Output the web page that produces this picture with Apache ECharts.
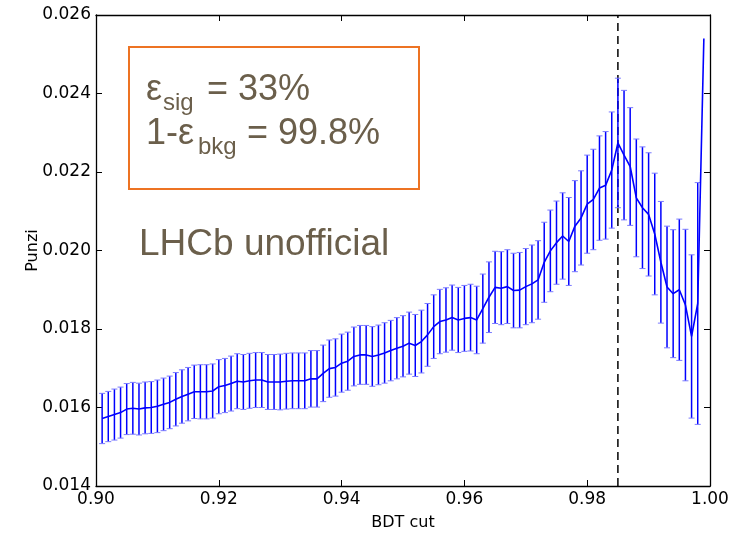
<!DOCTYPE html>
<html>
<head>
<meta charset="utf-8">
<script src="https://cdn.jsdelivr.net/npm/echarts@6/dist/echarts.min.js"></script>
<style>html,body{margin:0;padding:0;background:#fff;}#c{width:738px;height:536px;}</style>
</head>
<body>
<div id="c"></div>
<script>
// BDT cut values (x)
const bdtCut = [
0.901,0.902,0.903,0.904,0.905,0.906,0.907,0.908,0.909,0.910,
0.911,0.912,0.913,0.914,0.915,0.916,0.917,0.918,0.919,0.920,
0.921,0.922,0.923,0.924,0.925,0.926,0.927,0.928,0.929,0.930,
0.931,0.932,0.933,0.934,0.935,0.936,0.937,0.938,0.939,0.940,
0.941,0.942,0.943,0.944,0.945,0.946,0.947,0.948,0.949,0.950,
0.951,0.952,0.953,0.954,0.955,0.956,0.957,0.958,0.959,0.960,
0.961,0.962,0.963,0.964,0.965,0.966,0.967,0.968,0.969,0.970,
0.971,0.972,0.973,0.974,0.975,0.976,0.977,0.978,0.979,0.980,
0.981,0.982,0.983,0.984,0.985,0.986,0.987,0.988,0.989,0.990,
0.991,0.992,0.993,0.994,0.995,0.996,0.997,0.998,0.999];
// Punzi figure of merit
const punzi = [
0.01572,0.01577,0.01582,0.01587,0.01596,0.01598,0.01596,0.01599,0.01600,0.01603,
0.01608,0.01613,0.01621,0.01628,0.01634,0.01640,0.01640,0.01640,0.01642,0.01653,
0.01656,0.01661,0.01667,0.01665,0.01668,0.01670,0.01670,0.01665,0.01665,0.01665,
0.01667,0.01668,0.01668,0.01668,0.01673,0.01673,0.01687,0.01699,0.01702,0.01713,
0.01718,0.01730,0.01734,0.01734,0.01730,0.01734,0.01739,0.01745,0.01751,0.01756,
0.01764,0.01758,0.01768,0.01785,0.01806,0.01819,0.01823,0.01829,0.01823,0.01827,
0.01829,0.01823,0.01852,0.01881,0.01906,0.01904,0.01908,0.01898,0.01899,0.01908,
0.01915,0.01925,0.01970,0.01999,0.02020,0.02037,0.02023,0.02062,0.02083,0.02118,
0.02130,0.02159,0.02166,0.02205,0.02274,0.02243,0.02214,0.02134,0.02109,0.02092,
0.02042,0.01970,0.01907,0.01890,0.01900,0.01861,0.01781,0.01865,0.02540];
// symmetric error (half-width)
const punziErr = [
0.00064,0.00064,0.00065,0.00065,0.00065,0.00066,0.00066,0.00066,0.00066,0.00067,
0.00067,0.00067,0.00068,0.00068,0.00068,0.00068,0.00069,0.00069,0.00069,0.00069,
0.00069,0.00070,0.00070,0.00070,0.00070,0.00070,0.00070,0.00070,0.00070,0.00071,
0.00071,0.00071,0.00071,0.00071,0.00072,0.00072,0.00072,0.00073,0.00073,0.00074,
0.00074,0.00075,0.00075,0.00075,0.00076,0.00076,0.00077,0.00077,0.00078,0.00078,
0.00079,0.00079,0.00080,0.00080,0.00081,0.00082,0.00082,0.00083,0.00083,0.00084,
0.00085,0.00086,0.00088,0.00090,0.00092,0.00093,0.00094,0.00095,0.00096,0.00097,
0.00099,0.00100,0.00102,0.00104,0.00106,0.00110,0.00112,0.00116,0.00120,0.00125,
0.00128,0.00133,0.00137,0.00148,0.00165,0.00165,0.00150,0.00150,0.00155,0.00157,
0.00155,0.00155,0.00155,0.00163,0.00180,0.00193,0.00208,0.00308,null];
const xTicks = [0.90,0.92,0.94,0.96,0.98,1.00];
const yTicks = [0.014,0.016,0.018,0.020,0.022,0.024,0.026];
const chosenCut = 0.985;

const lineData = bdtCut.map((x,i)=>[x,punzi[i]]);
const errData = [];
bdtCut.forEach((x,i)=>{ if(punziErr[i]!=null) errData.push([x,punzi[i],punziErr[i]]); });
const cutLineData = [[chosenCut, yTicks[0]], [chosenCut, yTicks[yTicks.length-1]]];

const axisFont = 'DejaVu Sans';
const annColor = '#6b5f4b';
const annFont = 'Liberation Sans';

const chart = echarts.init(document.getElementById('c'), null, {renderer:'canvas'});
const baseX = {min:xTicks[0], max:xTicks[xTicks.length-1], interval:0.02, type:'value'};
const baseY = {min:yTicks[0], max:yTicks[yTicks.length-1], interval:0.002, type:'value'};
chart.setOption({
  animation:false,
  grid:{left:96,right:28,top:15,bottom:45,show:false},
  xAxis:[
    Object.assign({},baseX,{position:'bottom',name:'BDT cut',nameLocation:'middle',nameGap:29,
      nameTextStyle:{fontFamily:axisFont,fontSize:16,color:'#000'},
      axisLine:{show:true,onZero:false,lineStyle:{color:'#000',width:1.3}},
      axisTick:{show:true,inside:true,length:6,lineStyle:{color:'#000',width:1}},
      axisLabel:{fontFamily:axisFont,fontSize:17,color:'#000',margin:5,formatter:v=>v.toFixed(2)},
      splitLine:{show:false}}),
    Object.assign({},baseX,{position:'top',
      axisLine:{show:true,onZero:false,lineStyle:{color:'#000',width:1.3}},
      axisTick:{show:true,inside:true,length:6,lineStyle:{color:'#000',width:1}},
      axisLabel:{show:false},splitLine:{show:false}})
  ],
  yAxis:[
    Object.assign({},baseY,{position:'left',name:'Punzi',nameLocation:'middle',nameGap:55,nameMoveOverlap:false,
      nameTextStyle:{fontFamily:axisFont,fontSize:16,color:'#000'},
      axisLine:{show:true,onZero:false,lineStyle:{color:'#000',width:1.3}},
      axisTick:{show:true,inside:true,length:6,lineStyle:{color:'#000',width:1}},
      axisLabel:{fontFamily:axisFont,fontSize:17,color:'#000',margin:5,formatter:v=>v.toFixed(3)},
      splitLine:{show:false}}),
    Object.assign({},baseY,{position:'right',
      axisLine:{show:true,onZero:false,lineStyle:{color:'#000',width:1.3}},
      axisTick:{show:true,inside:true,length:6,lineStyle:{color:'#000',width:1}},
      axisLabel:{show:false},splitLine:{show:false}})
  ],
  series:[
    {
      type:'line', xAxisIndex:0, yAxisIndex:0, data:cutLineData, showSymbol:false, symbol:'none', z:1,
      lineStyle:{color:'#000',type:[8,5],width:1.5}, silent:true
    },
    {
      type:'custom', xAxisIndex:0, yAxisIndex:0, clip:true, z:2,
      data:errData,
      renderItem:function(params,api){
        const x=api.value(0), y=api.value(1), e=api.value(2);
        const t=api.coord([x,y+e]), b=api.coord([x,y-e]);
        const hw=3;
        return {type:'group',children:[
          {type:'line',shape:{x1:t[0],y1:t[1],x2:b[0],y2:b[1]},style:{stroke:'#0000ff',lineWidth:1.5}},
          {type:'line',shape:{x1:t[0]-hw,y1:t[1],x2:t[0]+hw,y2:t[1]},style:{stroke:'#7a7aff',lineWidth:1}},
          {type:'line',shape:{x1:b[0]-hw,y1:b[1],x2:b[0]+hw,y2:b[1]},style:{stroke:'#7a7aff',lineWidth:1}}
        ]};
      }
    },
    {
      type:'line', xAxisIndex:0, yAxisIndex:0, data:lineData, showSymbol:false, symbol:'none', z:3,
      lineStyle:{color:'#0000ff',width:1.6}
    }
  ],
  graphic:[
    {type:'rect',shape:{x:129,y:47,width:290,height:142},style:{fill:'#fff',stroke:'#ed7323',lineWidth:2},z:10},
    {type:'text',x:146,y:90,z:11,style:{text:'ε',font:'36px "'+annFont+'"',fill:annColor,align:'left',verticalAlign:'middle'}},
    {type:'text',x:163,y:103,z:11,style:{text:'sig',font:'24px "'+annFont+'"',fill:annColor,align:'left',verticalAlign:'middle'}},
    {type:'text',x:207,y:90,z:11,style:{text:'= 33%',font:'36px "'+annFont+'"',fill:annColor,align:'left',verticalAlign:'middle'}},
    {type:'text',x:146,y:134,z:11,style:{text:'1-ε',font:'36px "'+annFont+'"',fill:annColor,align:'left',verticalAlign:'middle'}},
    {type:'text',x:198,y:147,z:11,style:{text:'bkg',font:'24px "'+annFont+'"',fill:annColor,align:'left',verticalAlign:'middle'}},
    {type:'text',x:247,y:134,z:11,style:{text:'= 99.8%',font:'36px "'+annFont+'"',fill:annColor,align:'left',verticalAlign:'middle'}},
    {type:'text',x:139,y:245,z:11,style:{text:'LHCb unofficial',font:'37px "'+annFont+'"',fill:annColor,align:'left',verticalAlign:'middle'}}
  ]
});
</script>
</body>
</html>
